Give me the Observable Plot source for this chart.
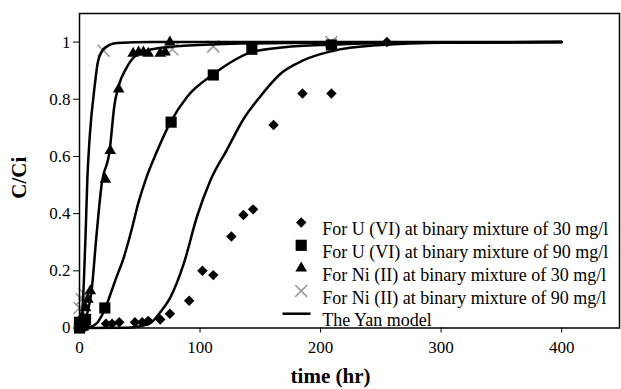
<!DOCTYPE html>
<html><head><meta charset="utf-8">
<script src="https://cdn.jsdelivr.net/npm/d3@7"></script>
<script src="https://cdn.jsdelivr.net/npm/@observablehq/plot@0.6"></script>
<style>body{margin:0;background:#fff} svg text{font-family:'Liberation Serif','Times New Roman',serif !important;}</style>
</head><body><div id="chart"></div>
<script>
// Experimental points
const u30Time = [0, 2, 5, 22, 27, 33, 46, 52, 57, 67, 75, 91, 102, 111, 126, 136, 144, 161, 185, 209, 255];
const u30C    = [0, 0.01, 0.005, 0.015, 0.015, 0.02, 0.02, 0.02, 0.025, 0.03, 0.05, 0.095, 0.2, 0.185, 0.32, 0.395, 0.415, 0.71, 0.82, 0.82, 1.0];
const u90Time = [0, 0, 3, 5, 21, 76, 111, 143, 209];
const u90C    = [0, 0.02, 0.01, 0.03, 0.07, 0.72, 0.885, 0.975, 0.99];
const ni30Time = [0, 2, 5, 7, 9, 21.5, 25.5, 32.5, 44.5, 49, 53, 57, 67, 71, 75];
const ni30C    = [0.01, 0.04, 0.07, 0.1, 0.13, 0.52, 0.62, 0.835, 0.96, 0.965, 0.965, 0.96, 0.96, 0.965, 1.0];
const ni90Time = [0, 2, 4, 20, 77, 111, 209];
const ni90C    = [0.07, 0.1, 0.12, 0.97, 0.975, 0.985, 1.0];

// Yan model curves
const yanNi90Time = [0, 2, 3.5, 5, 6.5, 8.5, 12.7, 15.5, 21, 31, 60, 400];
const yanNi90C    = [0, 0.04, 0.15, 0.32, 0.52, 0.67, 0.85, 0.935, 0.98, 0.997, 1, 1];
const yanNi30Time = [0, 4, 8, 10, 14, 18.3, 25, 29, 32, 39, 46, 60, 80, 120, 200, 400];
const yanNi30C    = [0, 0.02, 0.08, 0.13, 0.32, 0.5, 0.62, 0.78, 0.84, 0.91, 0.95, 0.975, 0.985, 0.993, 0.998, 1];
const yanU90Time = [0, 8, 14, 18, 21, 25, 30, 37, 43, 49, 55, 64.5, 75.5, 89.5, 110.5, 143, 170, 209, 260, 400];
const yanU90C    = [0, 0.003, 0.015, 0.04, 0.065, 0.11, 0.17, 0.25, 0.34, 0.44, 0.52, 0.62, 0.72, 0.81, 0.886, 0.965, 0.982, 0.991, 0.997, 1];
const yanU30Time = [0, 40, 50, 59, 67, 75.5, 86.5, 97.5, 108.5, 122.5, 136, 150, 167, 185, 209, 250, 300, 400];
const yanU30C    = [0, 0.001, 0.006, 0.018, 0.055, 0.108, 0.225, 0.39, 0.515, 0.625, 0.73, 0.81, 0.89, 0.935, 0.968, 0.99, 0.998, 1];

const xTicks = [0, 100, 200, 300, 400];
const yTicks = [0, 0.2, 0.4, 0.6, 0.8, 1];
const legendLabels = [
  "For U (VI) at binary mixture of 30 mg/l",
  "For U (VI) at binary mixture of 90 mg/l",
  "For Ni (II) at binary mixture of 30 mg/l",
  "For Ni (II) at binary mixture of 90 mg/l",
  "The Yan model"
];

const zip = (ts, cs) => ts.map((t, i) => ({t, c: cs[i]}));
const pts = {
  u30: zip(u30Time, u30C), u90: zip(u90Time, u90C),
  ni30: zip(ni30Time, ni30C), ni90: zip(ni90Time, ni90C)
};
const curves = [zip(yanNi90Time, yanNi90C), zip(yanNi30Time, yanNi30C), zip(yanU90Time, yanU90C), zip(yanU30Time, yanU30C)];

const serif = "'Liberation Serif', 'Times New Roman', serif";
const styles = {
  u30: {symbol: "diamond2", r: 4.7, fill: "black", stroke: "none"},
  u90: {symbol: "square", r: 6.3, fill: "black", stroke: "none"},
  ni30: {symbol: "triangle", r: 4.3, fill: "black", stroke: "none"},
  ni90: {symbol: "times", r: 5.5, fill: "none", stroke: "#999", strokeWidth: 1.5}
};
const lineSymbol = {draw(ctx) { ctx.moveTo(-14, 0); ctx.lineTo(14, 0); }};

const marks = [];
marks.push(Plot.axisX({ticks: xTicks, tickSize: 5, tickPadding: 8, tickFormat: d => String(d), fontSize: 17, fontFamily: serif, fontVariant: "normal", label: null}));
marks.push(Plot.axisY({ticks: yTicks, tickSize: 6, tickPadding: 3, tickFormat: d => String(d), fontSize: 17, fontFamily: serif, fontVariant: "normal", label: null}));
for (const k of ["ni90", "u30", "u90", "ni30"]) {
  marks.push(Plot.dot(pts[k], {x: "t", y: "c", ...styles[k]}));
}
for (const cv of curves) {
  marks.push(Plot.line(cv, {x: "t", y: "c", curve: "monotone-x", stroke: "black", strokeWidth: 2.5}));
}
// legend
const legendKeys = ["u30", "u90", "ni30", "ni90"];
legendLabels.forEach((lab, i) => {
  const dy = 209 + i * 22.8;
  if (i < 4) {
    marks.push(Plot.dot([lab], {frameAnchor: "top-left", dx: 221.7, dy, ...styles[legendKeys[i]]}));
  } else {
    marks.push(Plot.dot([lab], {frameAnchor: "top-left", dx: 217, dy, symbol: lineSymbol, stroke: "black", strokeWidth: 2.5, r: 5}));
  }
  marks.push(Plot.text([lab], {text: d => d, frameAnchor: "top-left", dx: 242.7, dy, textAnchor: "start", fontSize: 18, fontFamily: serif, fill: "black"}));
});
marks.push(Plot.text(["time (hr)"], {text: d => d, frameAnchor: "bottom", dx: -19, dy: 55, fontWeight: "bold", fontSize: 21, fontFamily: serif, fill: "black"}));
marks.push(Plot.text(["C/Ci"], {text: d => d, frameAnchor: "left", dx: -60, dy: 28, rotate: -90, fontWeight: "bold", fontSize: 21, fontFamily: serif, fill: "black"}));
marks.push(Plot.frame({stroke: "black", strokeWidth: 1.5}));

const chart = Plot.plot({
  width: 621, height: 389,
  marginLeft: 79, marginRight: 2, marginTop: 13, marginBottom: 61.5,
  style: {fontFamily: serif, fontSize: "16px", color: "black", background: "white"},
  x: {domain: [0, 448]},
  y: {domain: [0, 1.1]},
  marks
});
document.getElementById("chart").appendChild(chart);
</script>
</body></html>
